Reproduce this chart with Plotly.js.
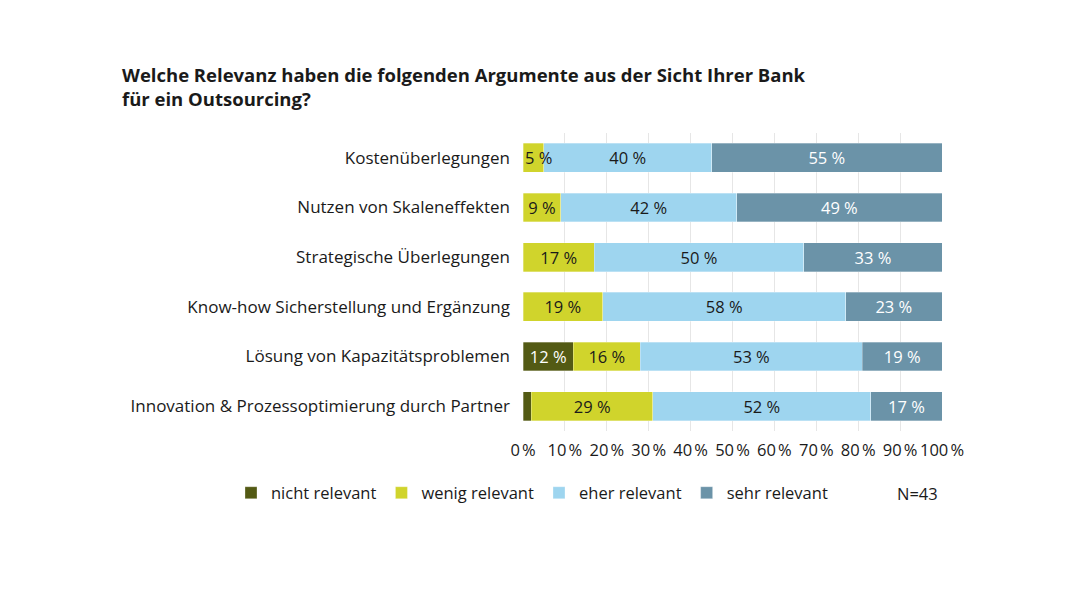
<!DOCTYPE html>
<html>
<head>
<meta charset="utf-8">
<script src="https://cdn.plot.ly/plotly-3.0.1.min.js"></script>
<style>html,body{margin:0;padding:0;background:#fff}#chart{width:1080px;height:593px}</style>
</head>
<body>
<div id="chart"></div>
<script>
const categories = [
  "Kostenüberlegungen",
  "Nutzen von Skaleneffekten",
  "Strategische Überlegungen",
  "Know-how Sicherstellung und Ergänzung",
  "Lösung von Kapazitätsproblemen",
  "Innovation & Prozessoptimierung durch Partner"
];
const seriesNames = ["nicht relevant", "wenig relevant", "eher relevant", "sehr relevant"];
const nichtRelevant = [0, 0, 0, 0, 12, 2];
const wenigRelevant = [5, 9, 17, 19, 16, 29];
const eherRelevant = [40, 42, 50, 58, 53, 52];
const sehrRelevant = [55, 49, 33, 23, 19, 17];
const tickVals = [0, 10, 20, 30, 40, 50, 60, 70, 80, 90, 100];
const tickLabels = ["0\u202F%", "10\u202F%", "20\u202F%", "30\u202F%", "40\u202F%", "50\u202F%", "60\u202F%", "70\u202F%", "80\u202F%", "90\u202F%", "100\u202F%"];
const sampleNote = "N=43";
const chartTitle = "Welche Relevanz haben die folgenden Argumente aus der Sicht Ihrer Bank<br>für ein Outsourcing?";

const colors = ["#535a14", "#d0d42c", "#9ed5ef", "#6b93a8"];
const textColors = ["#ffffff", "#1a1a1a", "#1a1a1a", "#ffffff"];
const allSeries = [nichtRelevant, wenigRelevant, eherRelevant, sehrRelevant];
const FONT = "'Open Sans', 'Noto Sans', sans-serif";
const FS = 16.5;
const SMALL = 6; // segments narrower than this get their label as a left-anchored annotation

const traces = allSeries.map((vals, i) => ({
  type: "bar",
  orientation: "h",
  name: seriesNames[i],
  y: categories,
  x: vals,
  width: 0.58,
  text: vals.map(v => v >= SMALL ? v + " %" : ""),
  textposition: "inside",
  insidetextanchor: "middle",
  constraintext: "none",
  textangle: 0,
  textfont: {family: FONT, size: FS, color: textColors[i]},
  hoverinfo: "skip",
  marker: {color: colors[i], line: {color: "rgba(255,255,255,0.6)", width: 0.5}}
}));

const annotations = [];
categories.forEach((cat, r) => {
  let start = 0;
  allSeries.forEach((vals, i) => {
    const v = vals[r];
    if (v >= 3 && v < SMALL) {
      annotations.push({
        text: v + " %", xref: "x", yref: "y", x: start, y: cat,
        xanchor: "left", yanchor: "middle", xshift: 0, showarrow: false,
        font: {family: FONT, size: FS, color: textColors[i]}
      });
    }
    start += v;
  });
});
annotations.push({
  text: sampleNote, xref: "paper", yref: "paper",
  x: (940 - 523) / 419, xanchor: "right",
  y: -62 / 298, yanchor: "middle",
  showarrow: false,
  font: {family: FONT, size: FS, color: "#1a1a1a"}
});

const layout = {
  width: 1080, height: 593,
  paper_bgcolor: "#fff", plot_bgcolor: "#fff",
  barmode: "stack",
  margin: {l: 523, r: 138, t: 133, b: 162},
  font: {family: FONT, color: "#1a1a1a", size: FS},
  title: {
    text: chartTitle,
    x: 122 / 1080, xanchor: "left", xref: "container",
    y: 1 - 82 / 593, yanchor: "top", yref: "container",
    font: {family: FONT, size: 18.5, color: "#1a1a1a", weight: "bold"}
  },
  xaxis: {
    range: [0, 100],
    tickvals: tickVals, ticktext: tickLabels,
    tickangle: 0,
    showgrid: true, gridcolor: "#e6e6e6", gridwidth: 1,
    zeroline: false, showline: false, ticks: "",
    ticklabelstandoff: 7,
    tickfont: {family: FONT, size: FS, color: "#1a1a1a"},
    fixedrange: true
  },
  yaxis: {
    autorange: "reversed",
    showgrid: false, zeroline: false, showline: false, ticks: "",
    ticklabelstandoff: 12,
    tickfont: {family: FONT, size: 17, color: "#1a1a1a"},
    fixedrange: true
  },
  showlegend: true,
  legend: {
    orientation: "h",
    x: (231 - 523) / 419, xanchor: "left",
    y: -62 / 298, yanchor: "middle",
    font: {family: FONT, size: FS, color: "#1a1a1a"},
    traceorder: "normal"
  },
  annotations: annotations
};

Plotly.newPlot("chart", traces, layout, {displayModeBar: false, staticPlot: true});
</script>
</body>
</html>
